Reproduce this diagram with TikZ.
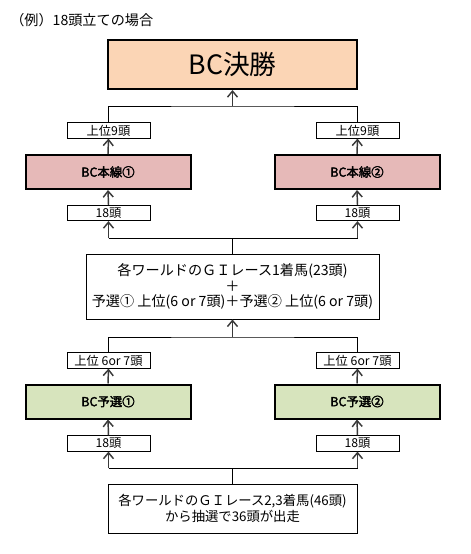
\documentclass[tikz,border=0pt]{standalone}
\usepackage{fontspec}
\setmainfont{Noto Sans CJK JP}[AutoFakeBold=2.5]
\usetikzlibrary{arrows.meta}
\definecolor{peach}{HTML}{FBD5B5}
\definecolor{rose}{HTML}{E6B9B8}
\definecolor{olive}{HTML}{D7E4BD}
\definecolor{linec}{HTML}{3A3A3A}
\tikzset{
  px/.style={x=0.75pt,y=-0.75pt},
  bigbox/.style={draw=black,line width=1.5pt,inner sep=0pt,minimum width=186.75pt,minimum height=36.75pt},
  racebox/.style={draw=black,line width=1.5pt,inner sep=0pt,minimum width=123.75pt,minimum height=25.5pt,font=\fontsize{9.3}{10}\selectfont\bfseries},
  tagbox/.style={draw=black,fill=white,line width=0.6pt,inner sep=0pt,minimum width=62.25pt,minimum height=11.5pt,font=\fontsize{9.2}{10}\selectfont},
  infobox/.style={draw=black,fill=white,line width=0.6pt,inner sep=0pt,align=center},
  arr/.style={draw=linec,line width=1.1pt,-{Straight Barb[length=4.5pt,width=7.5pt]}},
  link/.style={draw=black,line width=0.6pt},
}
\begin{document}
\begin{tikzpicture}[px]
\useasboundingbox (0,0) rectangle (471,554);
\node[anchor=west,inner sep=0pt,font=\fontsize{10.6}{12}\selectfont] (title) at (10,20) {（例）18頭立ての場合};
\node[bigbox,fill=peach,font=\fontsize{20}{22}\selectfont] (final) at (232.5,64.5) {BC決勝};
\node[tagbox] (t9L) at (108.5,130.5) {上位9頭};
\node[tagbox] (t9R) at (357.5,130.5) {上位9頭};
\node[racebox,fill=rose] (h1) at (108,172) {BC本線①};
\node[racebox,fill=rose] (h2) at (357,172) {BC本線②};
\node[tagbox] (a18L) at (108.5,213) {18頭};
\node[tagbox] (a18R) at (357.5,213) {18頭};
\node[infobox,minimum width=219.75pt,minimum height=48.75pt,font=\fontsize{10.6}{11.8}\selectfont] (mid) at (232.5,286.5) {各ワールドのＧＩレース1着馬(23頭)\\＋\\予選① 上位(6 or 7頭)＋予選② 上位(6 or 7頭)};
\node[tagbox] (t6L) at (108.5,360.5) {上位 6or 7頭};
\node[tagbox] (t6R) at (357.5,360.5) {上位 6or 7頭};
\node[racebox,fill=olive] (y1) at (108,401.5) {BC予選①};
\node[racebox,fill=olive] (y2) at (357,401.5) {BC予選②};
\node[tagbox] (b18L) at (108.5,443.5) {18頭};
\node[tagbox] (b18R) at (357.5,443.5) {18頭};
\node[infobox,minimum width=186.75pt,minimum height=36.75pt,font=\fontsize{10}{11.8}\selectfont] (bot) at (232.5,508.5) {各ワールドのＧＩレース2,3着馬(46頭)\\から抽選で36頭が出走};
% junctions
\coordinate (j1) at (232.5,106);
\coordinate (j2) at (232.5,238);
\coordinate (j3) at (232.5,337);
\coordinate (j4) at (232.5,468);
% top level
\draw[link] (t9L.north) |- (j1) -| (t9R.north);
\draw[arr] (j1) -- (final.south);
\draw[arr] (h1.north) -- (t9L.south);
\draw[arr] (h2.north) -- (t9R.south);
\draw[arr] (a18L.north) -- (h1.south);
\draw[arr] (a18R.north) -- (h2.south);
\draw[link] (mid.north) -- (j2);
\draw[link] (j2 -| a18L) -- (j2 -| a18R);
\draw[arr] (j2 -| a18L) -- (a18L.south);
\draw[arr] (j2 -| a18R) -- (a18R.south);
% lower level
\draw[link] (t6L.north) |- (j3) -| (t6R.north);
\draw[arr] (j3) -- (mid.south);
\draw[arr] (y1.north) -- (t6L.south);
\draw[arr] (y2.north) -- (t6R.south);
\draw[arr] (b18L.north) -- (y1.south);
\draw[arr] (b18R.north) -- (y2.south);
\draw[link] (bot.north) -- (j4);
\draw[link] (j4 -| b18L) -- (j4 -| b18R);
\draw[arr] (j4 -| b18L) -- (b18L.south);
\draw[arr] (j4 -| b18R) -- (b18R.south);
\end{tikzpicture}
\end{document}
